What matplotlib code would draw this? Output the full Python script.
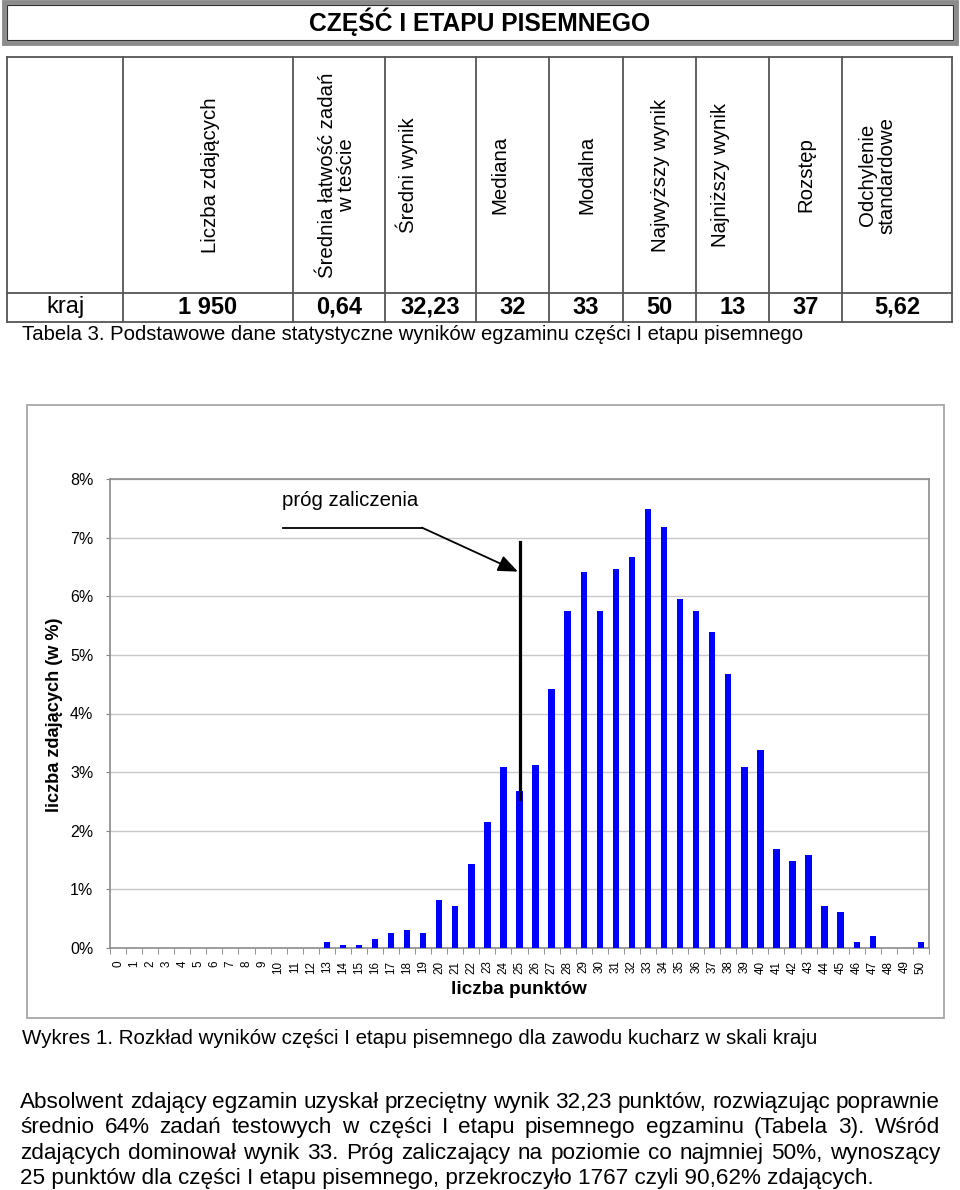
import matplotlib
matplotlib.use("Agg")
import matplotlib.pyplot as plt
from matplotlib.patches import Rectangle
from matplotlib.lines import Line2D

plt.rcParams["font.family"] = ["Liberation Sans", "DejaVu Sans"]

W, H = 960, 1190

# --- data -------------------------------------------------------------
points = list(range(51))
share = [0, 0, 0, 0, 0, 0, 0, 0, 0, 0, 0, 0, 0,
         0.10, 0.05, 0.05, 0.15, 0.26, 0.31, 0.26, 0.82, 0.72, 1.44, 2.15,
         3.08, 2.67, 3.13, 4.41, 5.75, 6.41, 5.75, 6.46, 6.67, 7.49, 7.18,
         5.95, 5.75, 5.39, 4.67, 3.08, 3.38, 1.69, 1.49, 1.59, 0.72, 0.62,
         0.10, 0.21, 0, 0, 0.10]
threshold = 25

headers = ["Liczba zdających", "Średnia łatwość zadań\nw teście", "Średni wynik",
           "Mediana", "Modalna", "Najwyższy wynik", "Najniższy wynik",
           "Rozstęp", "Odchylenie\nstandardowe"]
row_label = "kraj"
row_values = ["1 950", "0,64", "32,23", "32", "33", "50", "13", "37", "5,62"]

paragraph = [
    "Absolwent zdający egzamin uzyskał przeciętny wynik 32,23 punktów, rozwiązując poprawnie",
    "średnio 64% zadań testowych w części I etapu pisemnego egzaminu (Tabela 3). Wśród",
    "zdających dominował wynik 33. Próg zaliczający na poziomie co najmniej 50%, wynoszący",
    "25 punktów dla części I etapu pisemnego, przekroczyło 1767 czyli 90,62% zdających.",
]


def fx(x):
    return x / W


def fy(y):
    return 1 - y / H


fig = plt.figure(figsize=(W / 100, H / 100), dpi=100)
fig.set_facecolor("white")

# --- title box --------------------------------------------------------
fig.patches.append(Rectangle((fx(4), fy(43)), fx(952), 41 / H, transform=fig.transFigure,
                             facecolor="white", edgecolor="#8c8c8c", lw=3.5))
fig.patches.append(Rectangle((fx(7), fy(40)), fx(946), 35 / H, transform=fig.transFigure,
                             facecolor="none", edgecolor="#303030", lw=0.8))
fig.text(fx(480), fy(22), "CZĘŚĆ I ETAPU PISEMNEGO", ha="center", va="center",
         fontsize=17.7, fontweight="bold")

# --- table ------------------------------------------------------------
col_edges = [7, 123, 293, 385, 476, 549, 623, 696, 769, 842, 952]
head_x = [210, 337, 407, 500, 587, 661, 720, 806, 877]
top, mid, bottom = 57, 293, 322
tc = "#555555"
for x in col_edges:
    fig.add_artist(Line2D([fx(x), fx(x)], [fy(top), fy(bottom)], color=tc, lw=1.3))
for y in (top, mid, bottom):
    fig.add_artist(Line2D([fx(col_edges[0]), fx(col_edges[-1])], [fy(y), fy(y)], color=tc, lw=1.3))

for x, h in zip(head_x, headers):
    fig.text(fx(x), fy(175), h, rotation=90, ha="center", va="center",
             fontsize=14.7, multialignment="center", linespacing=1.0)

fig.text(fx((col_edges[0] + col_edges[1]) / 2), fy(307), row_label,
         ha="center", va="center", fontsize=17)
for i, v in enumerate(row_values):
    xc = (col_edges[i + 1] + col_edges[i + 2]) / 2
    fig.text(fx(xc), fy(307), v, ha="center", va="center", fontsize=17, fontweight="bold")

fig.text(fx(22), fy(335), "Tabela 3. Podstawowe dane statystyczne wyników egzaminu części I etapu pisemnego",
         ha="left", va="center", fontsize=14.55)

# --- chart ------------------------------------------------------------
fig.patches.append(Rectangle((fx(27), fy(1018)), fx(917), (1018 - 405) / H,
                             transform=fig.transFigure, facecolor="none",
                             edgecolor="#a6a6a6", lw=1.3))

ax = fig.add_axes([fx(110), fy(948), fx(929 - 110), (948 - 479) / H])
ax.bar(points, share, width=0.4, color="#0000ff", zorder=3)
ax.set_xlim(-0.5, 50.5)
ax.set_ylim(0, 8)
ax.set_yticks(range(9))
ax.set_yticklabels([f"{i}%" for i in range(9)], fontsize=11.5)
ax.set_xticks(points)
ax.set_xticklabels([str(p) for p in points], rotation=90, fontsize=8.4)
ax.set_xticks([p - 0.5 for p in points] + [50.5], minor=True)
ax.tick_params(axis="x", which="major", length=0, pad=9)
ax.tick_params(axis="x", which="minor", length=4, color="#808080")
ax.tick_params(axis="y", length=3, color="#808080", pad=9)
ax.grid(axis="y", color="#c8c8c8", lw=1, zorder=0)
for s in ax.spines.values():
    s.set_color("#8c8c8c")
    s.set_linewidth(1.2)

# threshold marker and its annotation
ax.plot([threshold, threshold], [2.54, 6.93], color="black", lw=2.3, zorder=4)
ax.plot([10.27, 18.93], [7.17, 7.17], color="black", lw=1.3, zorder=4)
ax.annotate("", xy=(threshold - 0.1, 6.42), xytext=(18.93, 7.17),
            arrowprops=dict(arrowstyle="-|>,head_length=1.2,head_width=0.5",
                            color="black", lw=1.3, shrinkA=0, shrinkB=0), zorder=4)
ax.text(14.44, 7.64, "próg zaliczenia", ha="center", va="center", fontsize=14.7)

fig.text(fx(55), fy(715), "liczba zdających (w %)", rotation=90, ha="center", va="center",
         fontsize=13.1, fontweight="bold")
fig.text(fx(519), fy(990), "liczba punktów", ha="center", va="center",
         fontsize=13.6, fontweight="bold")

fig.text(fx(22), fy(1038), "Wykres 1. Rozkład wyników części I etapu pisemnego dla zawodu kucharz w skali kraju",
         ha="left", va="center", fontsize=14.75)

# --- justified paragraph ----------------------------------------------
baselines = [1108, 1133, 1159, 1184]
fig.canvas.draw()
renderer = fig.canvas.get_renderer()
for k, (line, y) in enumerate(zip(paragraph, baselines)):
    if k == len(paragraph) - 1:
        fig.text(fx(20), fy(y), line, ha="left", va="baseline", fontsize=16.2)
        continue
    words = line.split()
    texts = [fig.text(0, fy(y), w, ha="left", va="baseline", fontsize=16.2) for w in words]
    widths = [t.get_window_extent(renderer).width for t in texts]
    gap = (940 - 20 - sum(widths)) / (len(words) - 1)
    x = 20
    for t, w in zip(texts, widths):
        t.set_x(fx(x))
        x += w + gap

fig.savefig("out.png", dpi=100)
